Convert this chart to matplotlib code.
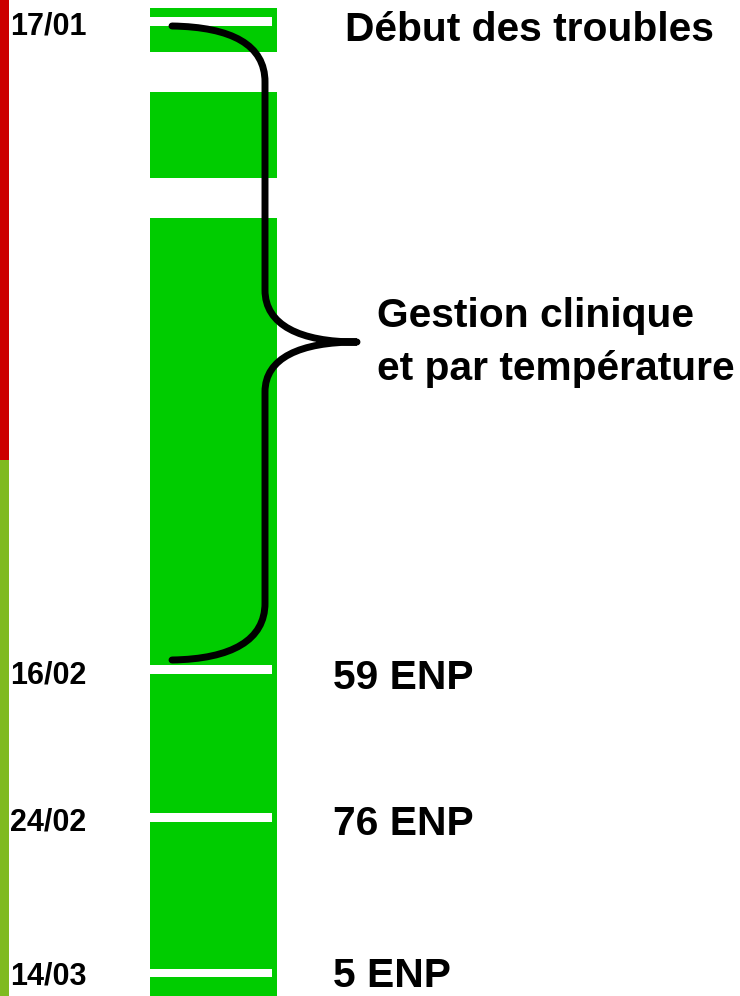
import matplotlib
matplotlib.use("Agg")
import matplotlib.pyplot as plt
from matplotlib.path import Path
from matplotlib.patches import PathPatch

plt.rcParams["font.family"] = ["Liberation Sans", "DejaVu Sans"]

# timeline in pixel rows (top = 0)
green_start = [8, 92, 218]
green_end = [52, 178, 996]
phase_start = [0, 460]
phase_end = [460, 996]
phase_colors = ["#cc0000", "#7fba20"]
marker_start = [17, 665, 813, 969]
marker_end = [26, 674, 822, 977]
date_labels = ["17/01", "16/02", "24/02", "14/03"]
date_baselines = [34, 683, 830, 984]
event_labels = ["Début des troubles", "59 ENP", "76 ENP", "5 ENP"]
event_x = [345, 333, 333, 333]
event_baselines = [41, 689, 835, 987]
brace_text = ["Gestion clinique", "et par température"]
brace_baselines = [327, 380]

GREEN = "#00cc00"


def main() -> None:
    fig = plt.figure(figsize=(7.4, 9.96), dpi=100)
    ax = fig.add_axes([0, 0, 1, 1])
    ax.set_xlim(0, 740)
    ax.set_ylim(996, 0)
    ax.axis("off")

    # phase bar on the left edge
    for s, e, c in zip(phase_start, phase_end, phase_colors):
        ax.bar(4.5, e - s, bottom=s, width=9, color=c, linewidth=0)

    # green column
    for s, e in zip(green_start, green_end):
        ax.bar(213.5, e - s, bottom=s, width=127, color=GREEN, linewidth=0)

    # white date markers
    for s, e in zip(marker_start, marker_end):
        ax.bar(211, e - s, bottom=s, width=122, color="white", linewidth=0)

    # brace
    verts = [
        (172, 26), (232, 27), (265, 45), (265, 82),
        (265, 290),
        (265, 325), (300, 342), (357, 342),
        (300, 342), (265, 358), (265, 392),
        (265, 603),
        (265, 640), (232, 659), (172, 660),
    ]
    codes = [Path.MOVETO, Path.CURVE4, Path.CURVE4, Path.CURVE4,
             Path.LINETO,
             Path.CURVE4, Path.CURVE4, Path.CURVE4,
             Path.CURVE4, Path.CURVE4, Path.CURVE4,
             Path.LINETO,
             Path.CURVE4, Path.CURVE4, Path.CURVE4]
    ax.add_patch(PathPatch(Path(verts, codes), facecolor="none", edgecolor="black",
                           linewidth=5.0, capstyle="round", joinstyle="round"))

    for label, y in zip(date_labels, date_baselines):
        ax.text(10, y, label, fontsize=22, fontweight="bold", va="baseline", ha="left")

    for label, x, y in zip(event_labels, event_x, event_baselines):
        ax.text(x, y, label, fontsize=29.3, fontweight="bold", va="baseline", ha="left")

    for label, y in zip(brace_text, brace_baselines):
        ax.text(377, y, label, fontsize=29.3, fontweight="bold", va="baseline", ha="left")

    fig.savefig("out.png", dpi=100)
    plt.close(fig)


if __name__ == "__main__":
    main()
